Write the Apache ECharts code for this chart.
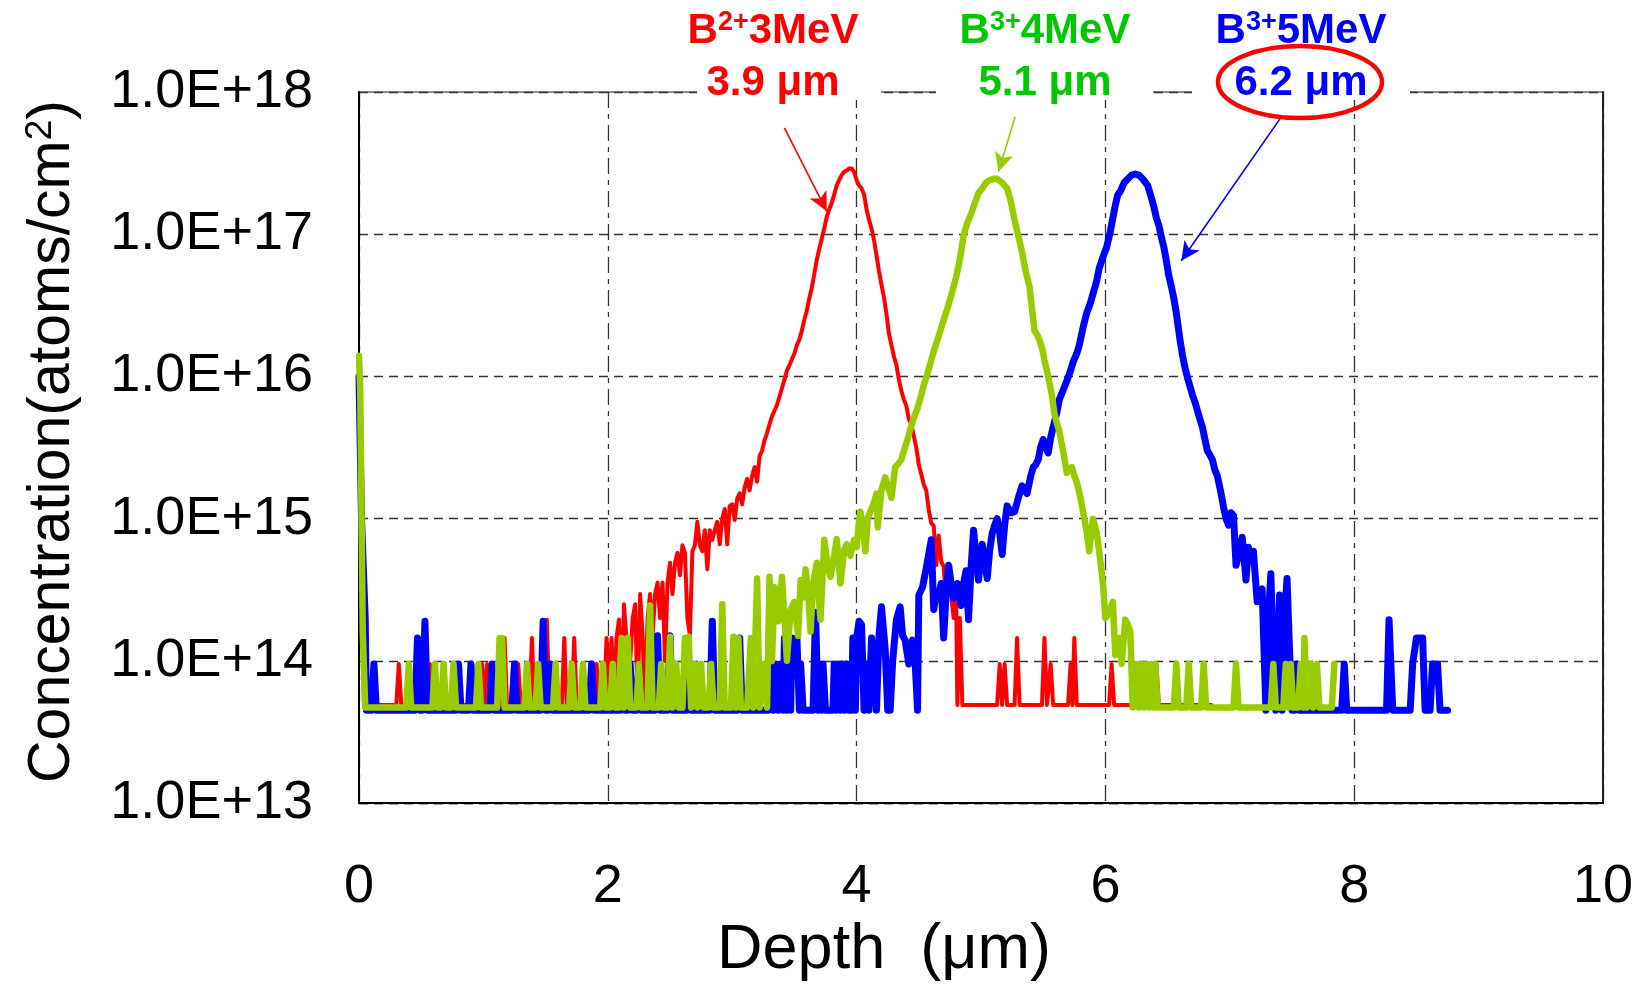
<!DOCTYPE html>
<html>
<head>
<meta charset="utf-8">
<script src="https://cdn.jsdelivr.net/npm/echarts@6/dist/echarts.min.js"></script>
<style>
html,body{margin:0;padding:0;background:#fff;}
#chart{width:1644px;height:987px;}
</style>
</head>
<body>
<div id="chart"></div>
<script>
// ---------------- data (depth in µm, concentration in atoms/cm2) ----------------
const xTicks = [0, 2, 4, 6, 8, 10];
const yTickExponents = [13, 14, 15, 16, 17, 18];

const redProfile = [
[0,6e15],[0.02,5e14],[0.04,4.9e13],[0.10,4.9e13],[0.12,9.5e13],[0.14,4.9e13],[0.30,4.9e13],[0.32,9.5e13],[0.34,4.9e13],
[0.45,4.9e13],[0.47,1.45e14],[0.49,4.9e13],[0.55,4.9e13],[0.57,9.5e13],[0.59,4.9e13],[0.97,4.9e13],[0.99,9.5e13],[1.01,4.9e13],
[1.03,9.5e13],[1.05,4.9e13],[1.15,4.9e13],[1.17,1.45e14],[1.19,4.9e13],[1.22,4.9e13],[1.24,9.5e13],[1.26,4.9e13],[1.28,9.5e13],
[1.30,4.9e13],[1.37,4.9e13],[1.39,1.45e14],[1.41,4.9e13],[1.49,4.9e13],[1.51,1.95e14],[1.53,4.9e13],[1.63,4.9e13],[1.65,1.45e14],
[1.67,4.9e13],[1.71,4.9e13],[1.73,1.45e14],[1.75,4.9e13],[1.89,4.9e13],[1.91,9.5e13],[1.93,4.9e13],[1.97,4.9e13],[1.99,1.45e14],
[2.01,4.9e13],[2.03,1.45e14],[2.05,4.9e13],[2.07,1.45e14],[2.09,1.95e14],[2.11,4.9e13],[2.13,2.5e14],[2.15,1.45e14],[2.18,1.0e14],
[2.20,2.0e14],[2.22,2.5e14],[2.24,4.9e13],[2.26,2.95e14],[2.28,1.48e14],[2.30,4.9e13],[2.32,2.0e14],[2.34,2.95e14],[2.36,1.48e14],
[2.38,2.95e14],[2.40,3.55e14],[2.42,2.0e14],[2.44,3.55e14],[2.46,1.0e14],[2.48,3.55e14],[2.50,4.9e14],[2.52,2.95e14],[2.54,4.9e14],
[2.56,5.75e14],[2.58,4.0e14],[2.60,6.5e14],[2.62,5.75e14],[2.64,2.0e14],[2.66,1.5e14],[2.68,5.9e14],[2.70,6.5e14],[2.72,9.5e14],
[2.74,6.5e14],[2.76,5.9e14],[2.78,8.3e14],[2.80,4.4e14],[2.82,8.3e14],[2.84,7.1e14],[2.86,8.3e14],[2.88,9.5e14],[2.90,6.6e14],
[2.92,1.0e15],[2.94,1.17e15],[2.96,6.6e14],[2.98,1.23e15],[3.00,1.26e15],[3.02,9.8e14],[3.04,1.38e15],[3.06,1.51e15],[3.08,1.26e15],
[3.10,1.66e15],[3.12,1.9e15],[3.14,1.58e15],[3.16,2.0e15],[3.18,2.3e15],[3.20,1.82e15],[3.22,2.75e15],[3.24,3.0e15],[3.26,3.55e15],
[3.28,4.0e15],[3.30,4.6e15],[3.32,5.25e15],[3.34,5.75e15],[3.36,6.3e15],[3.38,7.2e15],[3.40,8.3e15],[3.42,9.5e15],[3.44,1.1e16],
[3.46,1.2e16],[3.48,1.32e16],[3.50,1.45e16],[3.52,1.66e16],[3.54,1.82e16],[3.56,2.1e16],[3.58,2.5e16],[3.60,2.9e16],[3.62,3.55e16],
[3.64,4.2e16],[3.66,5.25e16],[3.68,6.6e16],[3.70,7.9e16],[3.72,9.3e16],[3.74,1.1e17],[3.76,1.32e17],[3.78,1.5e17],[3.80,1.66e17],
[3.82,1.9e17],[3.84,2.2e17],[3.86,2.4e17],[3.88,2.6e17],[3.90,2.75e17],[3.92,2.8e17],[3.94,2.9e17],[3.96,2.9e17],[3.98,2.75e17],
[4.00,2.4e17],[4.02,2.2e17],[4.04,2.1e17],[4.06,1.9e17],[4.08,1.5e17],[4.10,1.26e17],[4.12,1.1e17],[4.14,9.1e16],[4.16,7.1e16],
[4.18,5.5e16],[4.20,4.4e16],[4.22,3.6e16],[4.24,2.75e16],[4.26,2.0e16],[4.28,1.66e16],[4.30,1.38e16],[4.32,1.2e16],[4.34,9.5e15],
[4.36,7.9e15],[4.38,6.9e15],[4.40,6.2e15],[4.42,5.0e15],[4.44,4.6e15],[4.46,3.8e15],[4.48,3.16e15],[4.50,2.4e15],[4.52,2.05e15],
[4.54,1.74e15],[4.56,1.58e15],[4.58,1.15e15],[4.60,9.3e14],[4.62,8.9e14],[4.64,4.7e14],[4.66,7.6e14],[4.68,5.0e14],[4.70,4.6e14],
[4.72,2.5e14],[4.74,4.0e14],[4.76,2.9e14],[4.78,2.0e14],[4.80,2.9e14],[4.81,4.9e13],[4.83,2.0e14],[4.85,4.9e13],[5.13,4.9e13],
[5.15,9.5e13],[5.17,4.9e13],[5.19,9.5e13],[5.21,4.9e13],[5.27,4.9e13],[5.29,1.45e14],[5.31,4.9e13],[5.49,4.9e13],[5.51,1.45e14],
[5.53,4.9e13],[5.56,9.5e13],[5.58,4.9e13],[5.70,4.9e13],[5.72,9.5e13],[5.735,4.9e13],[5.75,1.45e14],[5.77,4.9e13],[6.03,4.9e13],
[6.05,9.5e13],[6.07,4.9e13],[6.39,4.9e13],[6.41,9.5e13],[6.43,4.9e13],[6.85,4.9e13]
];

const greenProfile = [
[0,1.4e16],[0.01,8e15],[0.03,1.6e14],[0.05,4.7e13],[0.38,4.7e13],[0.40,9.5e13],[0.42,4.7e13],[0.59,4.7e13],[0.61,9.5e13],
[0.63,4.7e13],[0.66,4.7e13],[0.68,9.5e13],[0.70,4.7e13],[0.74,4.7e13],[0.76,9.5e13],[0.78,4.7e13],[0.94,4.7e13],[0.96,9.5e13],
[0.98,4.7e13],[1.11,4.7e13],[1.13,1.45e14],[1.15,1.45e14],[1.17,4.7e13],[1.33,4.7e13],[1.35,9.5e13],[1.37,4.7e13],[1.42,4.7e13],
[1.44,9.5e13],[1.46,4.7e13],[1.56,4.7e13],[1.58,9.5e13],[1.60,4.7e13],[1.69,4.7e13],[1.71,9.5e13],[1.73,4.7e13],[1.78,4.7e13],
[1.80,9.5e13],[1.82,4.7e13],[1.94,4.7e13],[1.96,9.5e13],[1.98,4.7e13],[2.02,4.7e13],[2.04,9.5e13],[2.06,4.7e13],[2.09,4.7e13],
[2.11,1.45e14],[2.13,4.7e13],[2.16,1.45e14],[2.18,4.7e13],[2.23,4.7e13],[2.25,9.5e13],[2.27,4.7e13],[2.32,4.7e13],[2.34,2.45e14],
[2.36,4.7e13],[2.41,4.7e13],[2.43,9.5e13],[2.45,4.7e13],[2.48,4.7e13],[2.50,1.48e14],[2.52,4.7e13],[2.55,9.5e13],[2.57,4.7e13],
[2.60,4.7e13],[2.62,1.45e14],[2.64,9.5e13],[2.65,1.48e14],[2.67,4.7e13],[2.70,9.5e13],[2.72,4.7e13],[2.75,9.5e13],[2.77,4.7e13],
[2.81,4.7e13],[2.83,9.5e13],[2.85,4.7e13],[2.90,4.7e13],[2.92,2.5e14],[2.94,4.7e13],[2.99,4.7e13],[3.01,1.48e14],[3.03,4.7e13],
[3.05,1.45e14],[3.07,4.7e13],[3.12,4.7e13],[3.15,1.45e14],[3.17,4.7e13],[3.20,3.8e14],[3.22,4.7e13],[3.25,9.5e13],[3.28,4.7e13],
[3.30,3.9e14],[3.32,1.0e14],[3.34,3.3e14],[3.37,1.9e14],[3.40,3.9e14],[3.42,2.0e14],[3.44,1.0e14],[3.47,2.3e14],[3.50,2.6e14],
[3.53,1.5e14],[3.55,3.7e14],[3.57,2.8e14],[3.59,4.4e14],[3.61,3.0e14],[3.63,1.6e14],[3.65,3.5e14],[3.68,4.9e14],[3.70,2.5e14],
[3.71,1.95e14],[3.74,7.1e14],[3.77,4.5e14],[3.79,3.9e14],[3.82,5.5e14],[3.84,7.2e14],[3.86,4.5e14],[3.87,3.5e14],[3.90,6.0e14],
[3.92,6.6e14],[3.95,5.5e14],[3.98,7.1e14],[4.00,6.3e14],[4.03,1.12e15],[4.05,9e14],[4.07,5.9e14],[4.09,1.0e15],[4.11,1.12e15],
[4.14,1.3e15],[4.16,1.5e15],[4.17,8.7e14],[4.20,1.6e15],[4.23,1.95e15],[4.25,1.7e15],[4.28,1.4e15],[4.31,2.3e15],[4.33,2.4e15],
[4.36,2.6e15],[4.38,3.0e15],[4.41,3.6e15],[4.43,4.2e15],[4.46,5.1e15],[4.49,6.0e15],[4.52,7.4e15],[4.54,8.7e15],[4.57,1.05e16],
[4.60,1.3e16],[4.62,1.5e16],[4.65,1.8e16],[4.68,2.2e16],[4.70,2.5e16],[4.73,3.0e16],[4.76,3.7e16],[4.78,4.3e16],[4.80,5.0e16],
[4.82,6.0e16],[4.84,7.5e16],[4.86,9.8e16],[4.89,1.2e17],[4.92,1.38e17],[4.95,1.65e17],[4.98,1.95e17],[5.01,2.1e17],[5.04,2.3e17],
[5.07,2.4e17],[5.10,2.45e17],[5.13,2.45e17],[5.17,2.3e17],[5.21,2.1e17],[5.24,1.7e17],[5.26,1.38e17],[5.28,1.15e17],[5.30,9.8e16],
[5.33,7.5e16],[5.35,6.0e16],[5.37,5.0e16],[5.39,4.3e16],[5.41,3.0e16],[5.43,2.1e16],[5.46,1.9e16],[5.49,1.6e16],[5.51,1.3e16],
[5.53,1.1e16],[5.55,9e15],[5.57,7.4e15],[5.59,5.5e15],[5.61,4.7e15],[5.63,4.1e15],[5.66,3.0e15],[5.69,2.1e15],[5.71,2.2e15],
[5.73,2.3e15],[5.75,2.0e15],[5.77,1.8e15],[5.80,1.4e15],[5.82,1.12e15],[5.85,8e14],[5.87,5.9e14],[5.90,1.0e15],[5.93,8e14],
[5.95,5.9e14],[5.97,4.2e14],[5.98,3.5e14],[6.00,2.0e14],[6.03,2.2e14],[6.06,2.6e14],[6.08,1.1e14],[6.11,1.45e14],[6.13,9.5e13],
[6.16,1.95e14],[6.18,1.8e14],[6.20,1.6e14],[6.22,4.7e13],[6.25,9.5e13],[6.27,4.7e13],[6.29,9.5e13],[6.31,4.7e13],[6.33,9.5e13],
[6.35,4.7e13],[6.37,9.5e13],[6.39,4.7e13],[6.40,9.5e13],[6.42,4.7e13],[6.55,4.7e13],[6.57,9.5e13],[6.59,4.7e13],[6.65,4.7e13],
[6.67,9.5e13],[6.69,4.7e13],[6.77,4.7e13],[6.79,9.5e13],[6.81,4.7e13],[7.03,4.7e13],[7.05,9.5e13],[7.07,4.7e13],[7.33,4.7e13],
[7.35,9.5e13],[7.37,4.7e13],[7.43,4.7e13],[7.45,9.5e13],[7.47,4.7e13],[7.49,9.5e13],[7.51,4.7e13],[7.55,4.7e13],[7.57,9.5e13],
[7.59,4.7e13],[7.60,1.45e14],[7.62,4.7e13],[7.65,9.5e13],[7.67,4.7e13],[7.70,9.5e13],[7.72,4.7e13],[7.82,4.7e13],[7.84,9.5e13]
];

const blueProfile = [
[0,1.0e16],[0.02,1.0e15],[0.05,2.0e14],[0.06,4.5e13],[0.10,4.5e13],[0.12,9.5e13],[0.14,4.5e13],[0.45,4.5e13],[0.47,1.45e14],
[0.49,4.5e13],[0.51,4.5e13],[0.53,1.9e14],[0.55,4.5e13],[0.78,4.5e13],[0.80,9.5e13],[0.82,4.5e13],[0.88,4.5e13],[0.90,9.5e13],
[0.92,4.5e13],[1.05,4.5e13],[1.07,9.5e13],[1.09,4.5e13],[1.23,4.5e13],[1.25,9.5e13],[1.27,4.5e13],[1.46,4.5e13],[1.48,1.9e14],
[1.50,4.5e13],[1.52,4.5e13],[1.54,9.5e13],[1.56,4.5e13],[1.85,4.5e13],[1.87,9.5e13],[1.89,4.5e13],[2.10,4.5e13],[2.12,9.5e13],
[2.14,4.5e13],[2.16,4.5e13],[2.18,9.5e13],[2.20,4.5e13],[2.23,4.5e13],[2.25,9.5e13],[2.27,4.5e13],[2.38,4.5e13],[2.40,1.5e14],
[2.42,4.5e13],[2.48,4.5e13],[2.50,1.5e14],[2.52,4.5e13],[2.63,4.5e13],[2.65,9.5e13],[2.67,4.5e13],[2.82,4.5e13],[2.84,1.9e14],
[2.86,4.5e13],[3.04,4.5e13],[3.06,1.45e14],[3.08,4.5e13],[3.29,4.5e13],[3.31,9.5e13],[3.33,4.5e13],[3.35,9.5e13],[3.37,4.5e13],
[3.39,9.5e13],[3.41,4.5e13],[3.42,1.45e14],[3.44,4.5e13],[3.45,9.5e13],[3.47,4.5e13],[3.48,1.45e14],[3.50,9.5e13],[3.52,1.45e14],
[3.54,4.5e13],[3.55,9.5e13],[3.57,4.5e13],[3.65,4.5e13],[3.67,2.2e14],[3.69,4.5e13],[3.70,9.5e13],[3.72,4.5e13],[3.73,9.5e13],
[3.75,4.5e13],[3.81,4.5e13],[3.82,9.5e13],[3.84,4.5e13],[3.85,9.5e13],[3.87,4.5e13],[3.88,9.5e13],[3.90,4.5e13],[3.92,9.5e13],
[3.94,4.5e13],[3.96,4.5e13],[3.97,1.45e14],[3.99,4.5e13],[4.00,1.45e14],[4.02,1.9e14],[4.04,1.8e14],[4.06,4.5e13],[4.08,9.5e13],
[4.10,4.5e13],[4.12,1.45e14],[4.14,9.5e13],[4.16,4.5e13],[4.18,1.5e14],[4.20,2.4e14],[4.23,1.2e14],[4.25,4.5e13],[4.27,4.5e13],
[4.29,1.0e14],[4.32,1.95e14],[4.35,2.4e14],[4.37,1.5e14],[4.39,1.4e14],[4.42,9.5e13],[4.45,1.4e14],[4.47,1.0e14],[4.49,4.5e13],
[4.50,2.9e14],[4.53,3.3e14],[4.56,4.5e14],[4.60,7.1e14],[4.62,2.3e14],[4.64,3.0e14],[4.66,2.9e14],[4.68,3.5e14],[4.70,1.45e14],
[4.72,3.0e14],[4.74,4.7e14],[4.76,3.5e14],[4.78,2.75e14],[4.81,3.5e14],[4.84,2.45e14],[4.86,3.5e14],[4.88,4.3e14],[4.90,1.95e14],
[4.92,4.5e14],[4.94,8.3e14],[4.96,5.5e14],[4.98,3.7e14],[5.01,6.6e14],[5.03,5.0e14],[5.05,3.8e14],[5.07,6.0e14],[5.09,7.9e14],
[5.11,9.0e14],[5.13,1.0e15],[5.15,8e14],[5.17,5.6e14],[5.19,9e14],[5.21,1.23e15],[5.24,1.1e15],[5.27,1.12e15],[5.30,1.4e15],
[5.33,1.7e15],[5.35,1.6e15],[5.37,1.5e15],[5.40,2.0e15],[5.42,2.3e15],[5.44,2.4e15],[5.46,2.6e15],[5.48,3.2e15],[5.50,3.6e15],
[5.52,3.2e15],[5.54,2.9e15],[5.56,3.7e15],[5.58,4.4e15],[5.61,5.6e15],[5.63,6.9e15],[5.66,8.0e15],[5.69,9.3e15],[5.72,1.1e16],
[5.74,1.26e16],[5.77,1.45e16],[5.79,1.66e16],[5.82,2.2e16],[5.85,2.8e16],[5.88,3.3e16],[5.90,3.8e16],[5.93,4.7e16],[5.95,5.75e16],
[5.98,6.9e16],[6.01,8.1e16],[6.04,1.05e17],[6.06,1.3e17],[6.08,1.6e17],[6.10,1.9e17],[6.12,2.0e17],[6.15,2.3e17],[6.18,2.45e17],
[6.21,2.6e17],[6.24,2.65e17],[6.27,2.6e17],[6.30,2.45e17],[6.34,2.2e17],[6.37,1.8e17],[6.39,1.55e17],[6.41,1.3e17],[6.43,1.15e17],
[6.45,9.5e16],[6.47,8.1e16],[6.49,6.5e16],[6.51,5.1e16],[6.53,4.3e16],[6.55,3.55e16],[6.57,2.8e16],[6.58,2.4e16],[6.60,1.8e16],
[6.62,1.4e16],[6.64,1.15e16],[6.66,9.8e15],[6.68,8.5e15],[6.70,7.4e15],[6.72,6.6e15],[6.74,5.75e15],[6.76,5.0e15],[6.78,4.4e15],
[6.80,3.6e15],[6.82,3.0e15],[6.84,2.8e15],[6.86,2.6e15],[6.88,2.2e15],[6.90,2.0e15],[6.93,1.5e15],[6.95,1.2e15],[6.97,1.0e15],
[6.99,9e14],[7.01,1.1e15],[7.03,1.05e15],[7.05,4.7e14],[7.08,6e14],[7.10,7.4e14],[7.13,3.7e14],[7.15,6.3e14],[7.17,5.0e14],
[7.19,5.9e14],[7.22,2.6e14],[7.24,3.0e14],[7.26,3.2e14],[7.29,4.5e13],[7.31,2.0e14],[7.33,4.1e14],[7.35,1.0e14],[7.37,4.5e13],
[7.40,2.9e14],[7.42,4.5e13],[7.44,2.0e14],[7.46,3.8e14],[7.48,1.2e14],[7.50,4.5e13],[7.52,4.5e13],[7.54,9.5e13],[7.56,4.5e13],
[7.90,4.5e13],[7.92,9.5e13],[7.94,4.5e13],[8.26,4.5e13],[8.28,1.95e14],[8.31,4.5e13],[8.45,4.5e13],[8.47,9.5e13],[8.50,1.45e14],
[8.55,1.45e14],[8.57,4.5e13],[8.61,4.5e13],[8.63,9.5e13],[8.67,9.5e13],[8.69,4.5e13],[8.75,4.5e13]
];

// arrow annotations: [start depth, start conc, end depth, end conc]
const redArrow = [3.42, 5.6e17, 3.76, 1.45e17];
const greenArrow = [5.275, 6.7e17, 5.14, 2.75e17];
const blueArrow = [7.41, 6.6e17, 6.61, 6.5e16];

// annotation texts
const labelIons = ['2+', '3+', '3+'];
const labelEnergies = ['3MeV', '4MeV', '5MeV'];
const labelDepths = ['3.9 μm', '5.1 μm', '6.2 μm'];

// ---------------- chart ----------------
const FONT = '"Liberation Sans", Arial, sans-serif';
const NARROW = '"Liberation Sans Narrow", "Arial Narrow", "Liberation Sans", sans-serif';
const chart = echarts.init(document.getElementById('chart'), null, {renderer: 'canvas'});

function arrowLine(a, color) {
  return {
    silent: true,
    symbol: ['none', 'arrow'],
    symbolSize: [14, 19],
    label: {show: false},
    lineStyle: {color: color, width: 1.6, type: 'solid'},
    emphasis: {disabled: true},
    data: [[{coord: [a[0], a[1]]}, {coord: [a[2], a[3]]}]]
  };
}

const labelColors = ['#FF0000', '#00C800', '#0000FF'];
const labelCenters = [773, 1045, 1301];
const boxes = [[697, 881], [936, 1153], [1192, 1410]];

const graphics = [];
boxes.forEach(function (b) {
  graphics.push({type: 'rect', z: 50, shape: {x: b[0], y: 55, width: b[1] - b[0], height: 45}, style: {fill: '#fff'}});
});
labelCenters.forEach(function (cx, i) {
  graphics.push({
    type: 'text', z: 60, x: cx, y: 31,
    style: {
      text: '{b|B}{s|' + labelIons[i] + '}{b|' + labelEnergies[i] + '}',
      align: 'center', verticalAlign: 'middle',
      rich: {
        b: {fontFamily: FONT, fontWeight: 'bold', fontSize: 42, fill: labelColors[i], lineHeight: 44},
        s: {fontFamily: FONT, fontWeight: 'bold', fontSize: 27, fill: labelColors[i], verticalAlign: 'top', lineHeight: 44, padding: [0, 0, 14, 0]}
      }
    }
  });
  graphics.push({
    type: 'text', z: 60, x: cx, y: 83,
    style: {
      text: labelDepths[i], align: 'center', verticalAlign: 'middle',
      fontFamily: FONT, fontWeight: 'bold', fontSize: 42, fill: labelColors[i]
    }
  });
});
graphics.push({
  type: 'ellipse', z: 61,
  shape: {cx: 1300, cy: 82, rx: 82, ry: 36},
  style: {fill: 'none', stroke: '#FF0000', lineWidth: 4.5}
});

const option = {
  animation: false,
  backgroundColor: '#fff',
  grid: {left: 359, right: 41, top: 92, bottom: 181, show: true, borderColor: '#8c8c8c', borderWidth: 2, backgroundColor: 'transparent'},
  xAxis: {
    type: 'value', min: xTicks[0], max: xTicks[xTicks.length - 1], interval: 2,
    name: 'Depth  (μm)', nameLocation: 'middle', nameGap: 115,
    nameTextStyle: {fontFamily: FONT, fontSize: 63, color: '#000', padding: [0, 194, 0, 0]},
    axisLine: {show: true, onZero: false, lineStyle: {color: '#000', width: 2}},
    axisTick: {show: false},
    axisLabel: {fontFamily: NARROW, fontSize: 54, color: '#000', margin: 57},
    splitLine: {show: true, lineStyle: {color: '#333', width: 1.3, type: [16, 6, 5, 6]}}
  },
  yAxis: [{
    type: 'log', logBase: 10,
    min: Math.pow(10, yTickExponents[0]), max: Math.pow(10, yTickExponents[yTickExponents.length - 1]),
    name: '{a|Concentration(atoms/cm}{s|2}{a|)}', nameLocation: 'middle', nameGap: 275, nameRotate: 90,
    nameTextStyle: {
      padding: [0, 0, 0, 12],
      rich: {
        a: {fontFamily: FONT, fontSize: 59, color: '#000', lineHeight: 62},
        s: {fontFamily: FONT, fontSize: 37, color: '#000', verticalAlign: 'top', lineHeight: 62, padding: [0, 0, 18, 0]}
      }
    },
    axisLine: {show: true, lineStyle: {color: '#000', width: 2}},
    axisTick: {show: false},
    axisLabel: {
      fontFamily: FONT, fontSize: 54, color: '#000', margin: 46,
      formatter: function (v) { return '1.0E+' + Math.round(Math.log10(v)); }
    },
    splitLine: {show: true, lineStyle: {color: '#333', width: 1.3, type: [9, 6]}}
  }, {
    type: 'log', logBase: 10, position: 'right',
    min: Math.pow(10, yTickExponents[0]), max: Math.pow(10, yTickExponents[yTickExponents.length - 1]),
    axisLine: {show: true, lineStyle: {color: '#222', width: 2}},
    axisTick: {show: false}, axisLabel: {show: false}, splitLine: {show: false}
  }],
  graphic: graphics,
  series: [
    {
      name: 'B2+ 3MeV', type: 'line', data: redProfile, showSymbol: false, symbol: 'none',
      lineStyle: {color: '#FF0000', width: 4, join: 'round', cap: 'round'}, itemStyle: {color: '#FF0000'}, z: 2,
      markLine: arrowLine(redArrow, '#FF0000')
    },
    {
      name: 'B3+ 5MeV', type: 'line', data: blueProfile, showSymbol: false, symbol: 'none',
      lineStyle: {color: '#0000FF', width: 7, join: 'round', cap: 'round'}, itemStyle: {color: '#0000FF'}, z: 3,
      markLine: arrowLine(blueArrow, '#0000FF')
    },
    {
      name: 'B3+ 4MeV', type: 'line', data: greenProfile, showSymbol: false, symbol: 'none',
      lineStyle: {color: '#99CC00', width: 6.5, join: 'round', cap: 'round'}, itemStyle: {color: '#99CC00'}, z: 4,
      markLine: arrowLine(greenArrow, '#99CC00')
    }
  ]
};
chart.setOption(option);
</script>
</body>
</html>
